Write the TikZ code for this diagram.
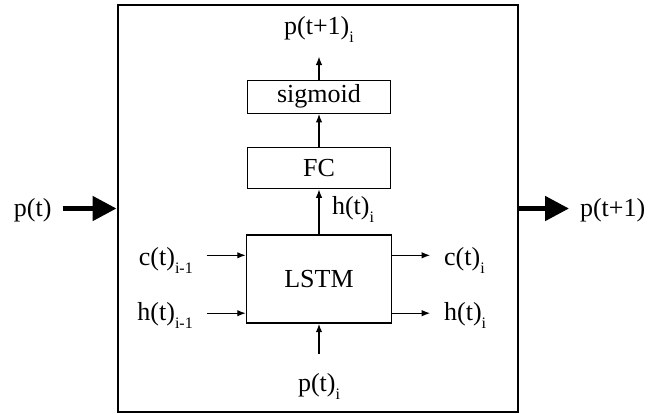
\documentclass[tikz,border=0pt]{standalone}
\usepackage{fontspec}
\setmainfont{Liberation Serif}
\usepackage{tikz}
\usetikzlibrary{positioning,arrows.meta}
\tikzstyle{BlockNode}=[rectangle, draw=black, line width=1.4pt, minimum width=143pt, inner sep=0pt]
\tikzstyle{LabelNode}=[inner sep=0pt, outer sep=14pt]
\tikzstyle{ThinArrow}=[-{Latex[length=8.5pt,width=6.5pt]}, line width=1.3pt]
\tikzstyle{ThickArrow}=[-{Triangle[length=24pt,width=24pt]}, line width=5pt]
\newcommand{\subidx}[1]{\raisebox{-8pt}{\fontsize{16}{17}\selectfont #1}}

\begin{document}
\begin{tikzpicture}[x=1pt, y=-1pt, font=\fontsize{26}{30}\selectfont]
      \useasboundingbox (0,0) rectangle (661,413);
      \node[draw, line width=2pt, inner sep=0pt, minimum width=400.5pt, minimum height=407pt] (frame) at (317.75,208.5) {};
      \node[BlockNode, minimum width=145pt, minimum height=88pt] (lstm) at (319,279) {LSTM};
      \node[BlockNode, minimum height=41pt] (fc) [above=45pt of lstm] {FC};
      \node[BlockNode, minimum height=33pt] (sig) [above=33pt of fc] {sigmoid};
      \coordinate (cin) at ([yshift=-21pt]lstm.north west);
      \coordinate (hin) at ([yshift=10.5pt]lstm.south west);
      \coordinate (cout) at ([yshift=-21pt]lstm.north east);
      \coordinate (hout) at ([yshift=10.5pt]lstm.south east);
      \node[LabelNode] (pout) [above=23pt of sig] {p(t+1)\subidx{i}};
      \node[LabelNode, outer sep=20pt] (pin) [below=30pt of lstm] {p(t)\subidx{i}};
      \node[LabelNode, outer sep=0pt, anchor=base west] (hmid) at (332,214.5) {h(t)\subidx{i}};
      \node[LabelNode, yshift=-5.5pt] (cprev) [left=39pt of cin] {c(t)\subidx{i-1}};
      \node[LabelNode, yshift=-2.7pt] (hprev) [left=39pt of hin] {h(t)\subidx{i-1}};
      \node[LabelNode, yshift=-5.5pt] (cnext) [right=38pt of cout] {c(t)\subidx{i}};
      \node[LabelNode, yshift=-2.7pt] (hnext) [right=38pt of hout] {h(t)\subidx{i}};
      \node[LabelNode, outer sep=11pt, yshift=-2pt] (pl) [left=54pt of frame] {p(t)};
      \node[LabelNode, outer sep=11pt, yshift=-2pt] (pr) [right=50pt of frame] {p(t+1)};
      \draw[ThinArrow] (lstm) -- (fc);
      \draw[ThinArrow] (fc) -- (sig);
      \draw[ThinArrow] (sig) -- (pout);
      \draw[ThinArrow] (pin) -- (lstm);
      \draw[ThinArrow] (cprev.east |- cin) -- (cin);
      \draw[ThinArrow] (hprev.east |- hin) -- (hin);
      \draw[ThinArrow] (cout) -- (cnext.west |- cout);
      \draw[ThinArrow] (hout) -- (hnext.west |- hout);
      \draw[ThickArrow] (pl.east |- frame.west) -- (frame.west);
      \draw[ThickArrow] (frame.east) -- (pr.west |- frame.east);
\end{tikzpicture}
\end{document}
